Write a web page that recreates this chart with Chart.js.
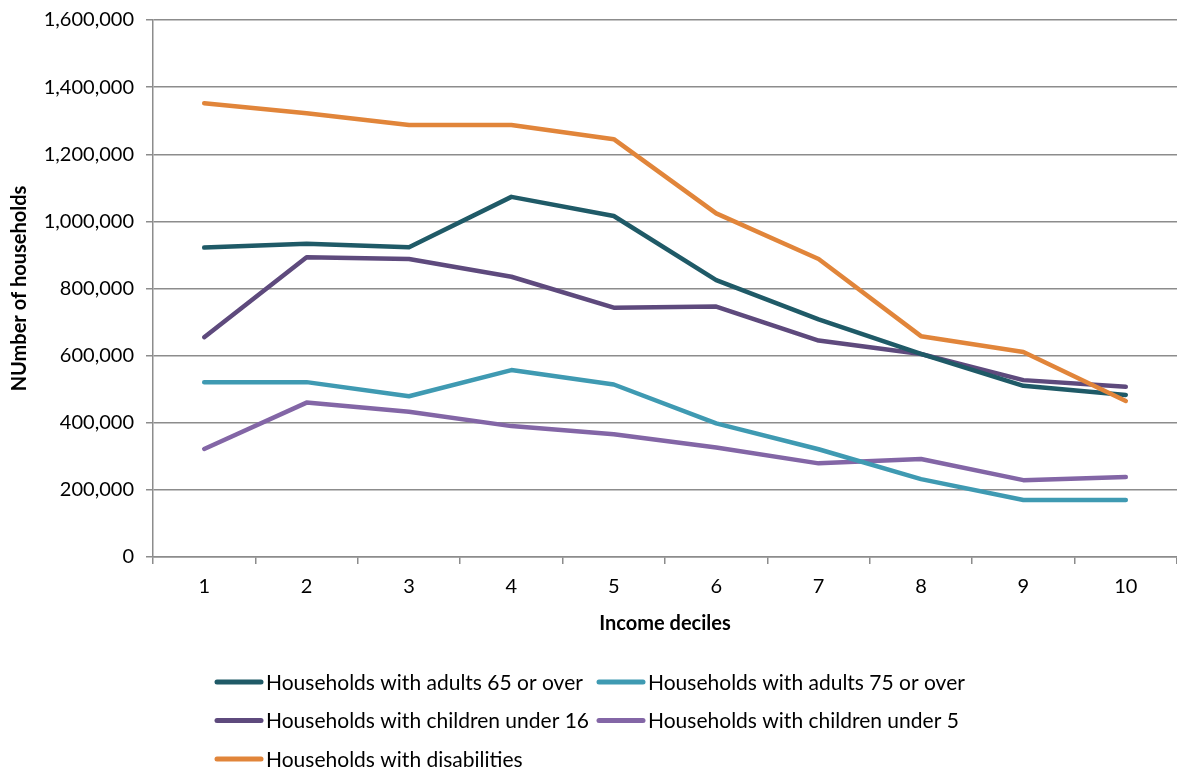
<!DOCTYPE html>
<html>
<head>
<meta charset="utf-8">
<script src="https://cdn.jsdelivr.net/npm/chart.js@4/dist/chart.umd.min.js"></script>
<style>
  html, body { margin: 0; padding: 0; background: #fff; }
  #wrap { width: 1177px; height: 769px; position: relative; }
</style>
</head>
<body>
<div id="wrap"><canvas id="chart" width="1177" height="769"></canvas></div>
<script>
const deciles = ['1', '2', '3', '4', '5', '6', '7', '8', '9', '10'];

const adults65 = [922000, 933000, 923000, 1073000, 1016000, 825000, 708000, 605000, 510000, 483000];
const adults75 = [521000, 521000, 479000, 557000, 514000, 398000, 321000, 232000, 170000, 170000];
const children16 = [655000, 893000, 888000, 835000, 743000, 746000, 645000, 605000, 527000, 507000];
const children5 = [322000, 460000, 433000, 390000, 366000, 326000, 279000, 292000, 229000, 238000];
const disabilities = [1352000, 1322000, 1287000, 1287000, 1245000, 1024000, 888000, 658000, 611000, 465000];

const seriesNames = [
    'Households with adults 65 or over',
    'Households with adults 75 or over',
    'Households with children under 16',
    'Households with children under 5',
    'Households with disabilities'
];
const seriesColors = ['#1f5a67', '#3f9ab2', '#5e4a7d', '#8366a6', '#e1853a'];

const FONT = 'Lato, "Open Sans", sans-serif';

// two-column legend drawn under the axis title
const gridLegend = {
    id: 'gridLegend',
    afterDraw(chart) {
        const ctx = chart.ctx;
        ctx.save();
        ctx.font = '21px ' + FONT;
        ctx.textBaseline = 'middle';
        ctx.fillStyle = '#000';
        chart.data.datasets.forEach((ds, i) => {
            const x = 215 + (i % 2) * 382;
            const y = 682 + Math.floor(i / 2) * 38.5;
            ctx.strokeStyle = ds.borderColor;
            ctx.lineWidth = 5;
            ctx.lineCap = 'round';
            ctx.beginPath();
            ctx.moveTo(x + 2, y);
            ctx.lineTo(x + 46, y);
            ctx.stroke();
            ctx.fillText(ds.label, x + 51, y + 1);
        });
        ctx.restore();
    }
};

const values = [adults65, adults75, children16, children5, disabilities];

new Chart(document.getElementById('chart'), {
    type: 'line',
    data: {
        labels: deciles,
        datasets: values.map((v, i) => ({
            label: seriesNames[i],
            data: v,
            borderColor: seriesColors[i],
            backgroundColor: seriesColors[i],
            borderWidth: 4.5,
            pointRadius: 0,
            tension: 0,
            borderCapStyle: 'round',
            borderJoinStyle: 'round',
            order: i === 4 ? 0 : 1
        }))
    },
    options: {
        responsive: false,
        animation: false,
        layout: { padding: { top: 20, right: 0, bottom: 129, left: 4 } },
        plugins: { legend: { display: false }, tooltip: { enabled: false } },
        scales: {
            x: {
                offset: true,
                afterFit: s => { s.height = 83; s.paddingLeft = 0; s.paddingRight = 0; },
                grid: { offset: true, drawOnChartArea: false, drawTicks: true, tickLength: 7, color: '#8c8c8c', lineWidth: 1.5 },
                border: { color: '#8c8c8c', width: 1.5 },
                ticks: { color: '#000', font: { family: FONT, size: 20 }, padding: 11 },
                title: { display: true, text: 'Income deciles', color: '#000', font: { family: FONT, size: 20, weight: 'bold' }, padding: { top: 2 } }
            },
            y: {
                min: 0,
                max: 1600000,
                afterFit: s => { s.width = 149; s.paddingTop = 0; s.paddingBottom = 0; },
                grid: { color: '#8c8c8c', lineWidth: 1.5, tickLength: 7 },
                border: { color: '#8c8c8c', width: 1.5 },
                ticks: {
                    stepSize: 200000,
                    color: '#000',
                    font: { family: FONT, size: 20 },
                    padding: 12,
                    callback: v => v.toLocaleString('en-US')
                },
                title: { display: true, text: 'NUmber of households', color: '#000', font: { family: FONT, size: 20, weight: 'bold' }, padding: { bottom: 0 } }
            }
        }
    },
    plugins: [gridLegend]
});
</script>
</body>
</html>
